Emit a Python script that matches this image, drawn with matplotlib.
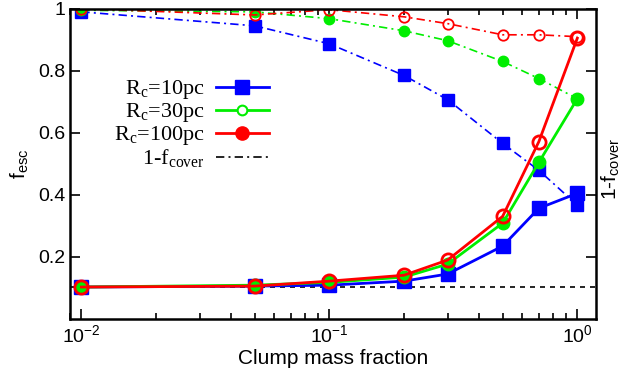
import matplotlib
matplotlib.use('Agg')
import matplotlib.pyplot as plt
from matplotlib.lines import Line2D
from matplotlib.ticker import FuncFormatter

plt.rcParams['font.family'] = 'Liberation Sans'
plt.rcParams['mathtext.fontset'] = 'custom'
plt.rcParams['mathtext.rm'] = 'Liberation Serif'
plt.rcParams['mathtext.sf'] = 'Liberation Sans'

# clump mass fraction
mass_frac = [0.01, 0.05, 0.1, 0.2, 0.3, 0.5, 0.7, 1.0]

# f_esc (solid lines)
fesc_10 = [0.103, 0.106, 0.109, 0.122, 0.145, 0.235, 0.357, 0.405]
fesc_30 = [0.103, 0.109, 0.118, 0.135, 0.177, 0.309, 0.505, 0.71]
fesc_100 = [0.103, 0.106, 0.122, 0.141, 0.19, 0.331, 0.572, 0.905]

# 1 - f_cover (dash-dot lines)
cover_10 = [0.99, 0.945, 0.887, 0.785, 0.707, 0.566, 0.479, 0.367]
cover_30 = [0.995, 0.99, 0.968, 0.929, 0.897, 0.83, 0.775, 0.71]
cover_100 = [1.0, 0.98, 0.997, 0.974, 0.952, 0.916, 0.916, 0.91]

floor_level = 0.103

fig = plt.figure(figsize=(6.24, 3.72), dpi=100)
ax = fig.add_axes([0.1122, 0.1425, 0.843, 0.834])

dashdot = (0, (5, 2.5, 1.2, 2.5))

# dash-dot: 1-f_cover
ax.plot(mass_frac, cover_10, color='blue', lw=1.2, ls=dashdot, marker='s', ms=8,
        mfc='blue', mec='blue')
ax.plot(mass_frac, cover_30, color='#00ee00', lw=1.2, ls=dashdot, marker='o', ms=7.5,
        mfc='#00ee00', mec='#00ee00')
ax.plot(mass_frac, cover_100, color='red', lw=1.2, ls=dashdot, marker='o', ms=7.5,
        mfc='none', mec='red', mew=1.3)

# horizontal floor
ax.axhline(floor_level, color='black', lw=1.2, ls=(0, (3, 3)), zorder=1)

# solid: f_esc
ax.plot(mass_frac, fesc_10, color='blue', lw=2, marker='s', ms=9.5, mfc='blue', mec='blue')
ax.plot(mass_frac, fesc_30, color='#00ee00', lw=2, marker='o', ms=9, mfc='#00ee00', mec='#00ee00')
ax.plot(mass_frac, fesc_100, color='red', lw=2, marker='o', ms=9.5, mfc='none', mec='red', mew=2)

ax.set_xscale('log')
ax.set_xlim(0.009, 1.19)
ax.set_ylim(0.0, 1.0)
ax.set_yticks([0.2, 0.4, 0.6, 0.8, 1.0])
ax.yaxis.set_major_formatter(FuncFormatter(lambda v, p: '%g' % v))

ax.tick_params(which='both', direction='in', top=True, right=True, labelsize=14, width=1.2)
ax.tick_params(which='major', length=7)
ax.tick_params(which='minor', length=4)
for s in ax.spines.values():
    s.set_linewidth(1.8)

ax.set_xlabel('Clump mass fraction', fontsize=15, labelpad=2)
ax.set_ylabel(r'f$_{\sf esc}$', fontsize=15, labelpad=5)
fig.text(0.978, 0.545, r'1-f$_{\sf cover}$', rotation=90, fontsize=15, ha='center', va='center')

handles = [
    Line2D([], [], color='blue', lw=2, marker='s', ms=9.5),
    Line2D([], [], color='#00ee00', lw=2, marker='o', ms=7, mfc='white', mew=1.5),
    Line2D([], [], color='red', lw=2, marker='o', ms=9.5),
    Line2D([], [], color='black', lw=1.2, ls=dashdot),
]
labels = [r'R$_{\rm c}$=10pc', r'R$_{\rm c}$=30pc', r'R$_{\rm c}$=100pc', r'1-f$_{\rm cover}$']
leg = ax.legend(handles, labels, loc='upper left', bbox_to_anchor=(0.045, 0.84),
                frameon=False, markerfirst=False, handlelength=2.4, handletextpad=0.5,
                labelspacing=0.0, prop={'family': 'Liberation Serif', 'size': 16})
for t in leg.get_texts():
    t.set_ha('right')

fig.savefig('out.png', dpi=100)
